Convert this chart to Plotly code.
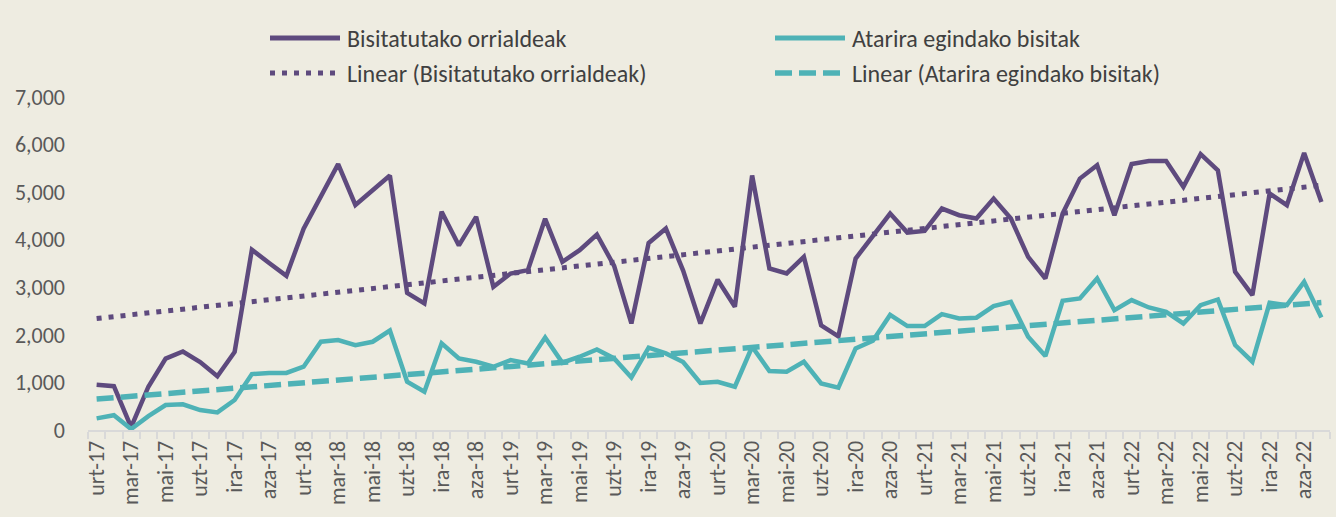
import numpy as np
import plotly.graph_objects as go

# ---- data -------------------------------------------------------------
month_abbr = ["urt", "ots", "mar", "api", "mai", "eka",
              "uzt", "abu", "ira", "urr", "aza", "abe"]
years = ["17", "18", "19", "20", "21", "22"]
categories = [f"{m}-{y}" for y in years for m in month_abbr]

bisitatutako_orrialdeak = [
    950, 920, 60, 910, 1500, 1650, 1430, 1130, 1640, 3790, 3510, 3240,
    4230, 4900, 5590, 4730, 5030, 5350, 2880, 2660, 4590, 3880, 4480, 3010,
    3290, 3360, 4440, 3535, 3780, 4110, 3450, 2240, 3930, 4235, 3350, 2240,
    3160, 2590, 5350, 3395, 3290, 3640, 2200, 1970, 3605, 4060, 4550, 4150,
    4185, 4655, 4515, 4445, 4865, 4445, 3640, 3185, 4550, 5285, 5565, 4515,
    5590, 5655, 5655, 5110, 5800, 5460, 3325, 2835, 4970, 4725, 5825, 4795,
]
atarira_egindako_bisitak = [
    245, 310, 20, 290, 525, 540, 420, 370, 630, 1175, 1200, 1200,
    1330, 1855, 1890, 1785, 1855, 2090, 1015, 805, 1820, 1505, 1435, 1330,
    1470, 1400, 1946, 1414, 1540, 1694, 1505, 1106, 1730, 1610, 1430, 990,
    1015, 910, 1750, 1240, 1225, 1435, 980, 890, 1715, 1875, 2420, 2184,
    2184, 2436, 2345, 2360, 2604, 2695, 1960, 1554, 2716, 2765, 3185, 2520,
    2730, 2576, 2485, 2240, 2625, 2744, 1785, 1435, 2674, 2625, 3115, 2366,
]
series_names = ["Bisitatutako orrialdeak", "Atarira egindako bisitak"]
trend_names = ["Linear (Bisitatutako orrialdeak)", "Linear (Atarira egindako bisitak)"]
y_ticks = [0, 1000, 2000, 3000, 4000, 5000, 6000, 7000]

# ---- styling ----------------------------------------------------------
PURPLE = "#5E4A7E"
TEAL = "#4EB2B6"
BG = "#EEECE1"
TEXT = "#595959"
FONT = "Carlito, Calibri, Lato, 'Open Sans', sans-serif"

W, H = 1336, 517
L, R, T, B = 88, 6, 97, 87
PW, PH = W - L - R, H - T - B

x = np.arange(len(categories))


def trend(values):
    k, b = np.polyfit(x, np.asarray(values, dtype=float), 1)
    return k * x + b


fig = go.Figure()
fig.add_trace(go.Scatter(x=x, y=bisitatutako_orrialdeak, mode="lines",
                         name=series_names[0],
                         line=dict(color=PURPLE, width=4.5)))
fig.add_trace(go.Scatter(x=x, y=atarira_egindako_bisitak, mode="lines",
                         name=series_names[1],
                         line=dict(color=TEAL, width=4.5)))
fig.add_trace(go.Scatter(x=x, y=trend(bisitatutako_orrialdeak), mode="lines",
                         name=trend_names[0],
                         line=dict(color=PURPLE, width=5, dash="5px,7px")))
fig.add_trace(go.Scatter(x=x, y=trend(atarira_egindako_bisitak), mode="lines",
                         name=trend_names[1],
                         line=dict(color=TEAL, width=5.5, dash="17px,7px")))


def px_x(p):
    return (p - L) / PW


def px_y(p):
    return (H - B - p) / PH


# custom legend (long symbols like the reference)
legend_items = [
    (270, 38, PURPLE, "solid", 5, series_names[0]),
    (775, 38, TEAL, "solid", 5, series_names[1]),
    (270, 73, PURPLE, "5px,7px", 5, trend_names[0]),
    (775, 73, TEAL, "17px,7px", 5.5, trend_names[1]),
]
shapes = []
annotations = []
for lx, ly, col, dash, wd, name in legend_items:
    shapes.append(dict(type="line", xref="paper", yref="paper",
                       x0=px_x(lx), x1=px_x(lx + 70), y0=px_y(ly), y1=px_y(ly),
                       line=dict(color=col, width=wd, dash=dash)))
    annotations.append(dict(xref="paper", yref="paper", x=px_x(lx + 75), y=px_y(ly),
                            xanchor="left", yanchor="middle", showarrow=False,
                            text=name, font=dict(family=FONT, size=24, color="#404040")))

fig.update_layout(
    width=W, height=H,
    margin=dict(l=L, r=R, t=T, b=B),
    paper_bgcolor=BG, plot_bgcolor=BG,
    showlegend=False,
    shapes=shapes,
    annotations=annotations,
    font=dict(family=FONT, color=TEXT),
    xaxis=dict(
        range=[-0.5, len(categories) - 0.5],
        tickmode="array",
        tickvals=x[::2].tolist(),
        ticktext=categories[::2],
        tickangle=-90,
        ticks="",
        tickfont=dict(family=FONT, size=22, color=TEXT),
        showgrid=False, zeroline=False,
        showline=True, linecolor="#D9D9D9", linewidth=2,
        minor=dict(ticks="outside", tick0=-0.5, dtick=1, ticklen=7,
                   tickcolor="#D9D9D9", tickwidth=2, showgrid=False),
    ),
    yaxis=dict(
        range=[0, 7000],
        tickmode="array", tickvals=y_ticks,
        tickformat=",",
        tickfont=dict(family=FONT, size=22, color=TEXT),
        showgrid=False, zeroline=False, showline=False,
        ticks="", ticklabelstandoff=22,
    ),
)

fig.write_html("out.html", config={"displayModeBar": False},
               post_script="document.body.style.margin='0';")
